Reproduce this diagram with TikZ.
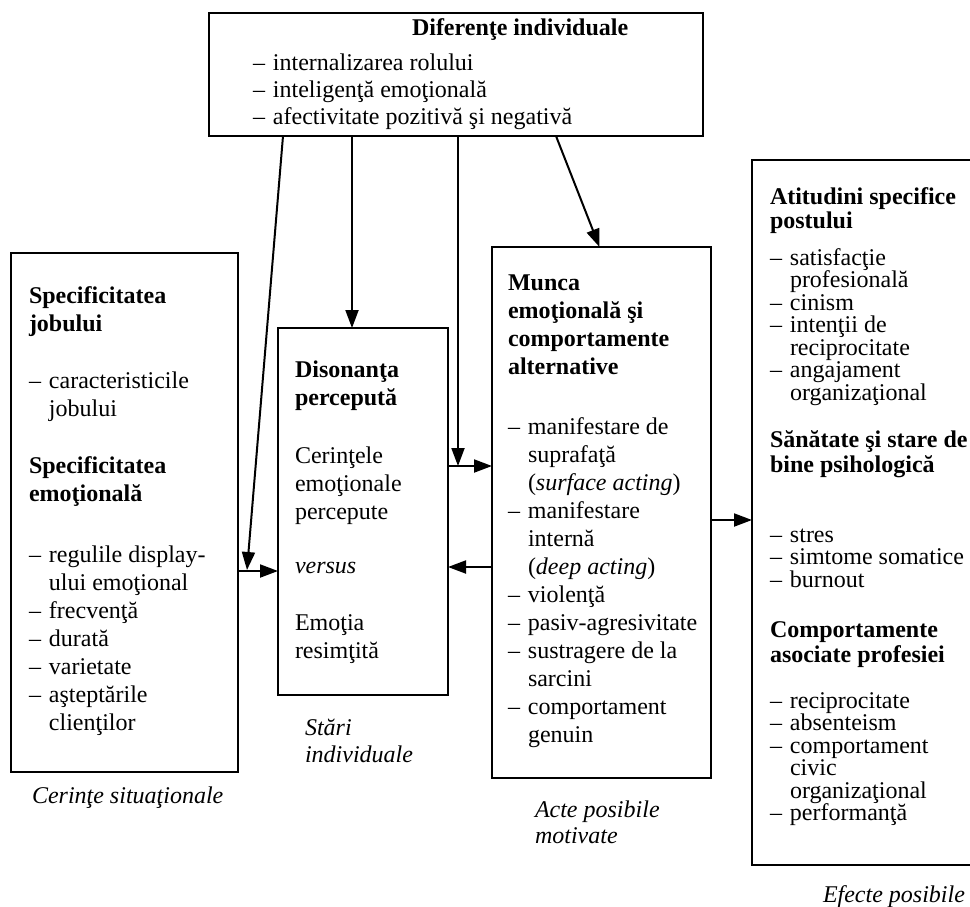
\documentclass[tikz,border=0pt]{standalone}
\usepackage{fontspec}
\setmainfont{Liberation Serif}
\usetikzlibrary{arrows.meta}
\newcommand\dashitem{\makebox[20pt][l]{–}}
\newcommand\contitem{\hspace*{20pt}}
\tikzset{
 box/.style={draw, line width=2.4pt, inner sep=0pt, outer sep=0pt, anchor=north west},
 txt/.style={inner sep=0pt, outer sep=0pt, anchor=base west, font=\fontsize{24}{28}\selectfont},
 txtr/.style={txt, font=\fontsize{24}{22.5}\selectfont},
 txtt/.style={txt, font=\fontsize{24}{27}\selectfont},
 capt/.style={txt, font=\itshape\fontsize{24}{26}\selectfont},
 arr/.style={line width=2pt, -{Triangle[length=18pt,width=13pt]}},
}
\begin{document}
\begin{tikzpicture}[x=1pt,y=-1pt]
\useasboundingbox (0,0) rectangle (970,906);
\fill[white] (0,0) rectangle (970,906);
\clip (0,0) rectangle (970,906);

% boxes
\node[box, minimum width=494pt, minimum height=123pt] (top) at (209,13) {};
\node[box, minimum width=227pt, minimum height=519pt] (left) at (11,253) {};
\node[box, minimum width=170pt, minimum height=367pt] (dis) at (278,328) {};
\node[box, minimum width=219pt, minimum height=531pt] (munca) at (492,247) {};
\node[box, minimum width=230pt, minimum height=705pt] (right) at (752,160) {};

% top box text
\node[txt] (toptitle) at (412,35) {\textbf{Diferenţe individuale}};
\node[txtt] (toplist) at (253,70) {\parbox[t]{440pt}{%
\dashitem internalizarea rolului\\
\dashitem inteligenţă emoţională\\
\dashitem afectivitate pozitivă şi negativă}};

% left box text
\node[txt] (lefttext) at (29,303) {\parbox[t]{205pt}{%
\textbf{Specificitatea}\\
\textbf{jobului}\\[29pt]
\dashitem caracteristicile\\
\contitem jobului\\[29pt]
\textbf{Specificitatea}\\
\textbf{emoţională}\\[33pt]
\dashitem regulile display-\\
\contitem ului emoţional\\
\dashitem frecvenţă\\
\dashitem durată\\
\dashitem varietate\\
\dashitem aşteptările\\
\contitem clienţilor}};

% dissonance box text
\node[txt] (distext) at (295,377) {\parbox[t]{150pt}{%
\textbf{Disonanţa}\\
\textbf{percepută}\\[30pt]
Cerinţele\\
emoţionale\\
percepute\\[26pt]
\textit{versus}\\[29pt]
Emoţia\\
resimţită}};

% munca box text
\node[txt] (muncatext) at (508,290) {\parbox[t]{200pt}{%
\textbf{Munca}\\
\textbf{emoţională şi}\\
\textbf{comportamente}\\
\textbf{alternative}\\[32pt]
\dashitem manifestare de\\
\contitem suprafaţă\\
\contitem (\textit{surface acting})\\
\dashitem manifestare\\
\contitem internă\\
\contitem (\textit{deep acting})\\
\dashitem violenţă\\
\dashitem pasiv-agresivitate\\
\dashitem sustragere de la\\
\contitem sarcini\\
\dashitem comportament\\
\contitem genuin}};

% right box text
\node[txtr] (righttext) at (770,204) {\parbox[t]{210pt}{%
\textbf{Atitudini specifice}\\[1.5pt]
\textbf{postului}\\[14.5pt]
\dashitem satisfacţie\\
\contitem profesională\\
\dashitem cinism\\
\dashitem intenţii de\\
\contitem reciprocitate\\
\dashitem angajament\\
\contitem organizaţional\\[24.5pt]
\textbf{Sănătate şi stare de}\\[2.5pt]
\textbf{bine psihologică}\\[47.5pt]
\dashitem stres\\
\dashitem simtome somatice\\
\dashitem burnout\\[27.5pt]
\textbf{Comportamente}\\[2.5pt]
\textbf{asociate profesiei}\\[23.5pt]
\dashitem reciprocitate\\
\dashitem absenteism\\
\dashitem comportament\\
\contitem civic\\
\contitem organizaţional\\
\dashitem performanţă}};

% captions
\node[capt] (capleft) at (32,803) {Cerinţe situaţionale};
\node[capt] (capdis) at (305,735) {\parbox[t]{150pt}{Stări\\[1pt] individuale}};
\node[capt] (capmunca) at (535,817) {\parbox[t]{180pt}{Acte posibile\\ motivate}};
\node[capt] (capright) at (823,902) {Efecte posibile};

% connectors
\coordinate (hA) at (0,571);
\coordinate (hB) at (0,466);
\coordinate (hC) at (0,567);
\coordinate (hD) at (0,520);
\coordinate (vA) at (283,0);
\coordinate (vAend) at (247,570);
\coordinate (vB) at (352,0);
\coordinate (vC) at (458,0);
\coordinate (vD) at (556,0);

\draw[arr] (left.east |- hA) -- (dis.west |- hA);
\draw[arr] (dis.east |- hB) -- (munca.west |- hB);
\draw[arr] (munca.west |- hC) -- (dis.east |- hC);
\draw[arr] (munca.east |- hD) -- (right.west |- hD);
\draw[arr] (top.south -| vA) -- (vAend);
\draw[arr] (top.south -| vB) -- (dis.north -| vB);
\draw[arr] (top.south -| vC) -- (hB -| vC);
\draw[arr] (top.south -| vD) -- ([xshift=-2pt]munca.north);
\end{tikzpicture}
\end{document}
